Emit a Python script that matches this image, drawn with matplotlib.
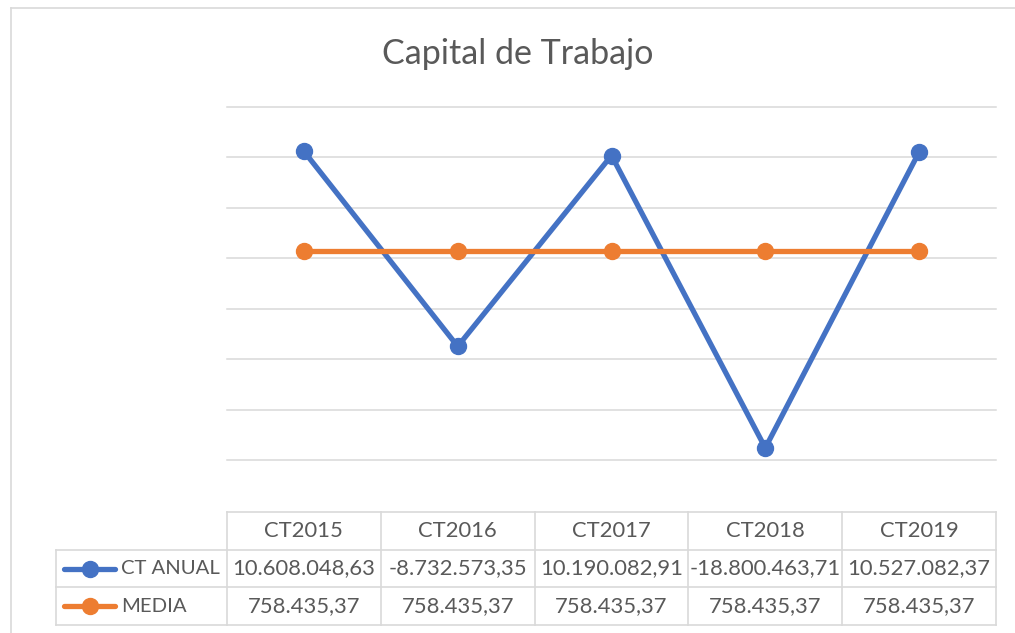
import matplotlib
matplotlib.use('Agg')
from matplotlib import pyplot as plt

categories = ['CT2015', 'CT2016', 'CT2017', 'CT2018', 'CT2019']
ct_anual = [10608048.63, -8732573.35, 10190082.91, -18800463.71, 10527082.37]
media = [758435.37, 758435.37, 758435.37, 758435.37, 758435.37]
series_names = ['CT ANUAL', 'MEDIA']
y_ticks = [-20e6, -15e6, -10e6, -5e6, 0, 5e6, 10e6, 15e6]

W, H = 1015, 633
BLUE = '#4472C4'
ORANGE = '#ED7D31'
GRID = '#D9D9D9'
TEXT = '#595959'

plt.rcParams['font.family'] = ['Lato', 'DejaVu Sans']


def fx(px):
    return px / W


def fy(py):
    return 1 - py / H


def fmt(v):
    s = f'{v:,.2f}'
    return s.replace(',', 'X').replace('.', ',').replace('X', '.')


fig = plt.figure(figsize=(W / 100, H / 100), dpi=100)

# chart border (top and left visible, rest cropped)
fig.add_artist(plt.Line2D([fx(11), fx(W + 5)], [fy(8), fy(8)], color=GRID, lw=1.2))
fig.add_artist(plt.Line2D([fx(11), fx(11)], [fy(8), fy(H + 5)], color=GRID, lw=1.2))

fig.text(fx(518), fy(64), 'Capital de Trabajo', ha='center', va='baseline',
         fontsize=24.5, color=TEXT)

# plot area
left, right, top, bottom = 227, 996, 107, 460
ax = fig.add_axes([fx(left), fy(bottom), fx(right - left), fy(top) - fy(bottom)])
xs = list(range(len(categories)))
ax.plot(xs, ct_anual, color=BLUE, lw=3.8, marker='o', ms=11.5, zorder=3,
        solid_capstyle='round', clip_on=False)
ax.plot(xs, media, color=ORANGE, lw=3.8, marker='o', ms=11.5, zorder=3,
        solid_capstyle='round', clip_on=False)
ax.set_xlim(-0.5, len(categories) - 0.5)
ax.set_ylim(y_ticks[0], y_ticks[-1])
for t in y_ticks:
    ax.axhline(t, color=GRID, lw=1.1, zorder=1, clip_on=False)
ax.set_xticks([])
ax.set_yticks([])
for spine in ax.spines.values():
    spine.set_visible(False)
ax.patch.set_alpha(0)

# data table
t_left, t_top, t_bottom = 56, 512, 625
row_h = (t_bottom - t_top) / 3
col_w = (right - left) / len(categories)
tab = fig.add_axes([fx(t_left), fy(t_bottom), fx(right - t_left), fy(t_top) - fy(t_bottom)])
tab.set_xlim(t_left, right)
tab.set_ylim(t_bottom, t_top)
tab.axis('off')

line_kw = dict(color=GRID, lw=1.2, solid_capstyle='projecting', clip_on=False)
tab.plot([left, right], [t_top, t_top], **line_kw)
for r in range(1, 4):
    y = t_top + r * row_h
    tab.plot([t_left, right], [y, y], **line_kw)
tab.plot([t_left, t_left], [t_top + row_h, t_bottom], **line_kw)
for c in range(len(categories) + 1):
    x = left + c * col_w
    tab.plot([x, x], [t_top, t_bottom], **line_kw)

fs = 15.8
for i, cat in enumerate(categories):
    cx = left + (i + 0.5) * col_w
    tab.text(cx, t_top + 0.5 * row_h, cat, ha='center', va='center', fontsize=fs, color=TEXT)
    tab.text(cx, t_top + 1.5 * row_h, fmt(ct_anual[i]), ha='center', va='center',
             fontsize=fs, color=TEXT)
    tab.text(cx, t_top + 2.5 * row_h, fmt(media[i]), ha='center', va='center',
             fontsize=fs, color=TEXT)

for r, (name, col) in enumerate(zip(series_names, [BLUE, ORANGE])):
    y = t_top + (r + 1.5) * row_h
    tab.plot([64, 115], [y, y], color=col, lw=3.8, solid_capstyle='round', clip_on=False)
    tab.plot([90], [y], marker='o', ms=11.5, color=col, clip_on=False)
    tab.text(121, y, name, ha='left', va='center', fontsize=14.6, color=TEXT)

fig.savefig('out.png', dpi=100)
